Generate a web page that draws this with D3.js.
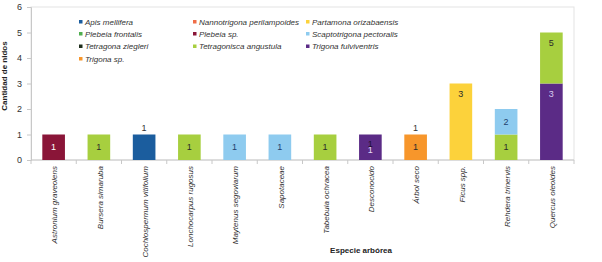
<!DOCTYPE html>
<html>
<head>
<meta charset="utf-8">
<script src="https://cdn.jsdelivr.net/npm/d3@7"></script>
<style>
  body { margin: 0; background: #fff; }
  text { font-family: "Liberation Sans", Arial, sans-serif; }
</style>
</head>
<body>
<div class="chart"></div>
<script>
// data
var categories = ["Astronium graveolens", "Bursera simaruba", "Cochlospermum vitifolium",
  "Lonchocarpus rugosus", "Maytenus segoviarum", "Sapotaceae", "Tabebuia ochracea",
  "Desconocido", "Árbol seco", "Ficus spp.", "Rehdera trinervis", "Quercus oleoides"];

var species = ["Apis mellifera", "Nannotrigona perilampoides", "Partamona orizabaensis",
  "Plebeia frontalis", "Plebeia sp.", "Scaptotrigona pectoralis",
  "Tetragona ziegleri", "Tetragonisca angustula", "Trigona fulviventris", "Trigona sp."];

var speciesColors = ["#1b5d9e", "#f06d47", "#fcd23b", "#4fae4f", "#8a1538", "#8ecbef",
  "#1f2f1c", "#a7cf3f", "#5b2b86", "#f7962b"];

// nests per tree species, one array per bee species (same order as categories)
var apisMellifera        = [0, 0, 1, 0, 0, 0, 0, 0, 0, 0, 0, 0];
var nannotrigona         = [0, 0, 0, 0, 0, 0, 0, 0, 0, 0, 0, 0];
var partamona            = [0, 0, 0, 0, 0, 0, 0, 0, 0, 3, 0, 0];
var plebeiaFrontalis     = [0, 0, 0, 0, 0, 0, 0, 0, 0, 0, 0, 0];
var plebeiaSp            = [1, 0, 0, 0, 0, 0, 0, 0, 0, 0, 0, 0];
var scaptotrigona        = [0, 0, 0, 0, 1, 1, 0, 0, 0, 0, 1, 0];
var tetragonaZiegleri    = [0, 0, 0, 0, 0, 0, 0, 0, 0, 0, 0, 0];
var tetragonisca         = [0, 1, 0, 1, 0, 0, 1, 0, 0, 0, 1, 2];
var trigonaFulviventris  = [0, 0, 0, 0, 0, 0, 0, 1, 0, 0, 0, 3];
var trigonaSp            = [0, 0, 0, 0, 0, 0, 0, 0, 1, 0, 0, 0];

var seriesValues = [apisMellifera, nannotrigona, partamona, plebeiaFrontalis, plebeiaSp,
  scaptotrigona, tetragonaZiegleri, tetragonisca, trigonaFulviventris, trigonaSp];

// stacking order, bottom first
var stackOrder = ["Trigona fulviventris", "Tetragonisca angustula", "Apis mellifera",
  "Nannotrigona perilampoides", "Partamona orizabaensis", "Plebeia frontalis", "Plebeia sp.",
  "Scaptotrigona pectoralis", "Tetragona ziegleri", "Trigona sp."];

// labels that sit above the bar in the original
var aboveLabels = [["Cochlospermum vitifolium", 1], ["Árbol seco", 1]];
var doubledLabels = ["Desconocido"];

var yTicks = [0, 1, 2, 3, 4, 5, 6];

var svgWidth = 602;
var svgHeight = 262;
var margin = { top: 7, right: 28, bottom: 102, left: 31 };
var width = svgWidth - margin.left - margin.right;
var height = svgHeight - margin.top - margin.bottom;

var svg = d3.select(".chart")
  .append("svg")
  .attr("width", svgWidth)
  .attr("height", svgHeight);

var chartGroup = svg.append("g")
  .attr("transform", `translate(${margin.left}, ${margin.top})`);

// table for the stack
var table = categories.map(function(c, i) {
  var row = { category: c };
  species.forEach(function(s, j) { row[s] = seriesValues[j][i]; });
  return row;
});

var color = d3.scaleOrdinal().domain(species).range(speciesColors);

var xScale = d3.scaleBand()
  .domain(categories)
  .range([0, width])
  .paddingInner(0.5)
  .paddingOuter(0.25);

var yScale = d3.scaleLinear()
  .domain([0, 6])
  .range([height, 0]);

// plot border
chartGroup.append("rect")
  .attr("x", 0).attr("y", 0)
  .attr("width", width).attr("height", height)
  .attr("fill", "none")
  .attr("stroke", "#e3e3e3");

// y axis
var leftAxis = d3.axisLeft(yScale).tickValues(yTicks).tickSize(4).tickPadding(5)
  .tickFormat(d3.format("d"));
var yAxis = chartGroup.append("g").call(leftAxis);
yAxis.select(".domain").attr("stroke", "#c8c8c8");
yAxis.selectAll(".tick line").attr("stroke", "#c8c8c8");
yAxis.selectAll("text").attr("font-size", "9px").attr("fill", "#333")
  .attr("font-family", "'Liberation Sans', Arial, sans-serif");

// x axis with ticks between categories
var xAxis = chartGroup.append("g").attr("transform", `translate(0, ${height})`);
xAxis.append("line").attr("x1", 0).attr("x2", width)
  .attr("stroke", "#c8c8c8");
xAxis.selectAll(".sep")
  .data(d3.range(categories.length + 1))
  .enter().append("line")
  .attr("x1", i => i * xScale.step())
  .attr("x2", i => i * xScale.step())
  .attr("y1", 0).attr("y2", 4)
  .attr("stroke", "#c8c8c8");

xAxis.selectAll(".xlab")
  .data(categories)
  .enter().append("text")
  .attr("transform", d => `translate(${xScale(d) + xScale.bandwidth() / 2 + 1}, 6) rotate(-90)`)
  .attr("dy", "0.35em")
  .attr("text-anchor", "end")
  .attr("font-size", "8px")
  .attr("font-style", "italic")
  .attr("fill", "#333")
  .text(d => d);

// bars
var stack = d3.stack().keys(stackOrder);
var layers = stack(table);

var layerGroups = chartGroup.selectAll(".layer")
  .data(layers)
  .enter().append("g")
  .attr("fill", d => color(d.key));

layerGroups.selectAll("rect")
  .data(d => d.filter(p => p[1] - p[0] > 0))
  .enter().append("rect")
  .attr("x", d => xScale(d.data.category))
  .attr("y", d => yScale(d[1]))
  .attr("width", xScale.bandwidth())
  .attr("height", d => yScale(d[0]) - yScale(d[1]));

// segment labels (the original shows the running total)
function labelColor(key) {
  if (key === "Plebeia sp.") return "#ffffff";
  if (key === "Trigona fulviventris") return "#d9ccef";
  if (key === "Apis mellifera") return "#1b5d9e";
  if (key === "Scaptotrigona pectoralis") return "#1f3f6e";
  return "#2b2b2b";
}

layers.forEach(function(layer) {
  layer.filter(p => p[1] - p[0] > 0).forEach(function(p) {
    var cx = xScale(p.data.category) + xScale.bandwidth() / 2;
    var cy = (yScale(p[0]) + yScale(p[1])) / 2;
    var doubled = doubledLabels.indexOf(p.data.category) >= 0;
    if (doubled) {
      // two labels drawn almost on top of each other, as in the original
      chartGroup.append("text")
        .attr("x", cx).attr("y", cy - 3)
        .attr("dy", "0.35em")
        .attr("text-anchor", "middle")
        .attr("font-size", "9px")
        .attr("fill", "#1e1030")
        .text(p[1]);
      cy = cy + 3;
    } else if (p[1] - p[0] > 1) {
      // taller segments put their label near the top
      cy = yScale(p[1]) + 10;
    }
    chartGroup.append("text")
      .attr("x", cx).attr("y", cy)
      .attr("dy", "0.35em")
      .attr("text-anchor", "middle")
      .attr("font-size", "9px")
      .attr("fill", doubled ? "#e6ddf5" : labelColor(layer.key))
      .text(p[1]);
  });
});

// labels above some bars
chartGroup.selectAll(".above")
  .data(aboveLabels)
  .enter().append("text")
  .attr("x", d => xScale(d[0]) + xScale.bandwidth() / 2)
  .attr("y", d => yScale(d[1]) - 4)
  .attr("text-anchor", "middle")
  .attr("font-size", "9px")
  .attr("fill", "#333")
  .text(d => d[1]);

// legend
var legendCols = [79, 193, 306];
var legendRows = [22, 34, 46.5, 59];
var legend = svg.append("g");
species.forEach(function(s, i) {
  var lx = legendCols[i % 3];
  var ly = legendRows[Math.floor(i / 3)];
  legend.append("rect")
    .attr("x", lx).attr("y", ly - 2)
    .attr("width", 3.5).attr("height", 3.5)
    .attr("fill", color(s));
  legend.append("text")
    .attr("x", lx + 6).attr("y", ly)
    .attr("dy", "0.35em")
    .attr("font-size", "8px")
    .attr("font-style", "italic")
    .attr("fill", "#333")
    .text(s);
});

// axis titles
svg.append("text")
  .attr("transform", "translate(7, 76) rotate(-90)")
  .attr("text-anchor", "middle")
  .attr("font-size", "8px")
  .attr("font-weight", "bold")
  .attr("fill", "#222")
  .text("Cantidad de nidos");

svg.append("text")
  .attr("x", 361)
  .attr("y", 253)
  .attr("text-anchor", "middle")
  .attr("font-size", "8px")
  .attr("font-weight", "bold")
  .attr("fill", "#222")
  .text("Especie arbórea");
</script>
</body>
</html>
